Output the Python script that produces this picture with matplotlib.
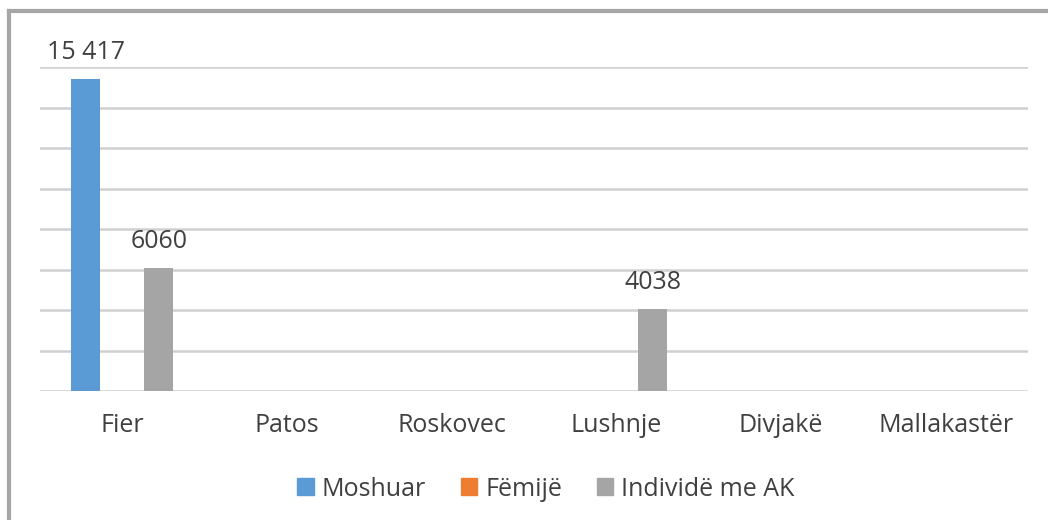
import matplotlib.pyplot as plt
import numpy as np
from matplotlib.lines import Line2D
from matplotlib.patches import Patch

plt.rcParams['font.family'] = ['Open Sans', 'DejaVu Sans']

qytetet = ['Fier', 'Patos', 'Roskovec', 'Lushnje', 'Divjakë', 'Mallakastër']
seri = ['Moshuar', 'Fëmijë', 'Individë me AK']
moshuar = [15417, 0, 0, 0, 0, 0]
femije = [0, 0, 0, 0, 0, 0]
individe = [6060, 0, 0, 4038, 0, 0]
ngjyrat = ['#5b9bd5', '#ed7d31', '#a5a5a5']
etiketa = {'Moshuar': ['15 417', '', '', '', '', ''],
           'Individë me AK': ['6060', '', '', '4038', '', '']}

W, H = 1048, 520
fs = 18
fig = plt.figure(figsize=(W / 100, H / 100), dpi=100)
ax = fig.add_axes([40 / W, (H - 391) / H, (1028 - 40) / W, (391 - 67) / H])

x = np.arange(len(qytetet))
gjeresi = 0.176
hap = 0.222
for i, (emer, vlerat) in enumerate(zip(seri, [moshuar, femije, individe])):
    pos = x + (i - 1) * hap
    bars = ax.bar(pos, vlerat, gjeresi, color=ngjyrat[i], zorder=3)
    if emer in etiketa:
        for b, v, t in zip(bars, vlerat, etiketa[emer]):
            if t:
                ax.text(b.get_x() + b.get_width() / 2, v + 700, t,
                        ha='center', va='bottom', fontsize=fs, color='#404040')

ax.set_xlim(-0.5, len(qytetet) - 0.5)
ax.set_ylim(0, 16000)
ax.set_yticks(np.arange(0, 16001, 2000))
ax.yaxis.grid(True, color='#d0d0d0', linewidth=1.8, zorder=0)
ax.tick_params(axis='y', left=False, labelleft=False)
ax.tick_params(axis='x', bottom=False, pad=12)
ax.set_xticks(x)
ax.set_xticklabels(qytetet, fontsize=fs, color='#404040')
for s in ax.spines.values():
    s.set_visible(False)

handles = [Patch(color=c) for c in ngjyrat]
fig.legend(handles, seri, loc='center', bbox_to_anchor=(546 / W, (H - 489) / H),
           ncol=3, frameon=False, fontsize=fs, handlelength=0.65,
           handleheight=0.65, handletextpad=0.32, columnspacing=1.4,
           labelcolor='#404040')

# kornizë grafiku
fig.add_artist(Line2D([9 / W, 9 / W], [0, (H - 11) / H], color='#a6a6a6', linewidth=3))
fig.add_artist(Line2D([9 / W, 1], [(H - 11) / H, (H - 11) / H], color='#a6a6a6', linewidth=3))

fig.savefig('out.png', dpi=100)
